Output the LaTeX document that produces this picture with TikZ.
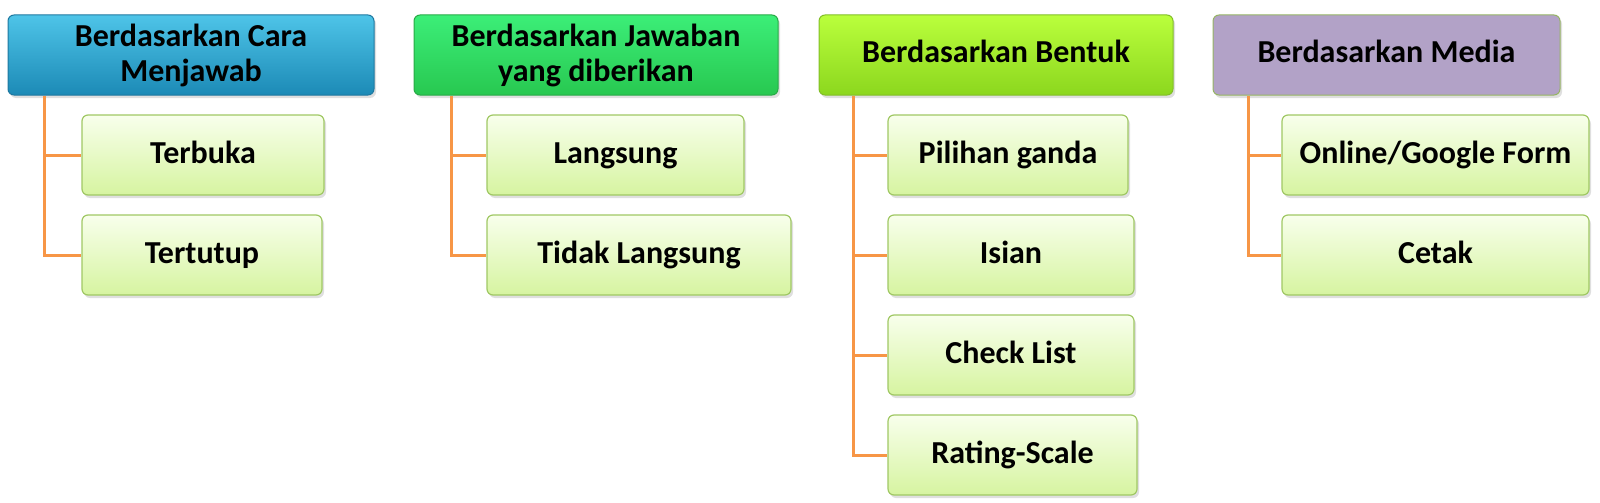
\documentclass[tikz,border=0pt]{standalone}
\usepackage{fontspec}
\setmainfont{Carlito}
\usetikzlibrary{shadows}
\definecolor{conn}{RGB}{247,150,70}
\definecolor{hAtop}{RGB}{78,196,232}
\definecolor{hAbot}{RGB}{28,138,182}
\definecolor{hAline}{RGB}{30,120,160}
\definecolor{hBtop}{RGB}{60,238,120}
\definecolor{hBbot}{RGB}{40,200,80}
\definecolor{hBline}{RGB}{40,170,70}
\definecolor{hCtop}{RGB}{186,255,60}
\definecolor{hCbot}{RGB}{140,215,30}
\definecolor{hCline}{RGB}{130,190,40}
\definecolor{hD}{RGB}{178,162,199}
\definecolor{hDline}{RGB}{150,180,100}
\definecolor{ctop}{RGB}{248,255,236}
\definecolor{cbot}{RGB}{214,244,160}
\definecolor{cline}{RGB}{160,200,100}
\tikzset{
  boxbase/.style={rectangle, rounded corners=6pt, minimum height=80pt, inner sep=0pt,
    align=center, font=\fontsize{32}{35}\selectfont\bfseries,
    drop shadow={shadow xshift=2pt, shadow yshift=-3pt, opacity=0.25}},
  oneline/.style={text height=23pt, text depth=7pt},
  headA/.style={boxbase, top color=hAtop, bottom color=hAbot, draw=hAline, line width=1pt},
  headB/.style={boxbase, top color=hBtop, bottom color=hBbot, draw=hBline, line width=1pt},
  headC/.style={boxbase, oneline, top color=hCtop, bottom color=hCbot, draw=hCline, line width=1pt},
  headD/.style={boxbase, oneline, fill=hD, draw=hDline, line width=1pt},
  child/.style={boxbase, oneline, top color=ctop, bottom color=cbot, draw=cline, line width=1.2pt},
  link/.style={draw=conn, line width=3pt},
}
\begin{document}
\begin{tikzpicture}[x=1pt,y=-1pt]
\useasboundingbox (0,0) rectangle (1600,503);
% column 1
\node[headA, minimum width=366pt] (h1) at (191,55) {Berdasarkan Cara\\Menjawab};
\node[child, minimum width=242pt] (c11) at (203,155) {Terbuka};
\node[child, minimum width=240pt] (c12) at (202,255) {Tertutup};
% column 2
\node[headB, minimum width=364pt] (h2) at (596,55) {Berdasarkan Jawaban\\yang diberikan};
\node[child, minimum width=257pt] (c21) at (615.5,155) {Langsung};
\node[child, minimum width=304pt] (c22) at (639,255) {Tidak Langsung};
% column 3
\node[headC, minimum width=354pt] (h3) at (996,55) {Berdasarkan Bentuk};
\node[child, minimum width=240pt] (c31) at (1008,155) {Pilihan ganda};
\node[child, minimum width=246pt] (c32) at (1011,255) {Isian};
\node[child, minimum width=246pt] (c33) at (1011,355) {Check List};
\node[child, minimum width=249pt] (c34) at (1012.5,455) {Rating-Scale};
% column 4
\node[headD, minimum width=347pt] (h4) at (1386.5,55) {Berdasarkan Media};
\node[child, minimum width=307pt] (c41) at (1435.5,155) {Online/Google Form};
\node[child, minimum width=307pt] (c42) at (1435.5,255) {Cetak};
% connectors
\coordinate (t1) at (44,96);
\coordinate (t2) at (451,96);
\coordinate (t3) at (853,96);
\coordinate (t4) at (1248,96);
\draw[link] (t1) |- (c11.west);
\draw[link] (t1) |- (c12.west);
\draw[link] (t2) |- (c21.west);
\draw[link] (t2) |- (c22.west);
\draw[link] (t3) |- (c31.west);
\draw[link] (t3) |- (c32.west);
\draw[link] (t3) |- (c33.west);
\draw[link] (t3) |- (c34.west);
\draw[link] (t4) |- (c41.west);
\draw[link] (t4) |- (c42.west);
\end{tikzpicture}
\end{document}
